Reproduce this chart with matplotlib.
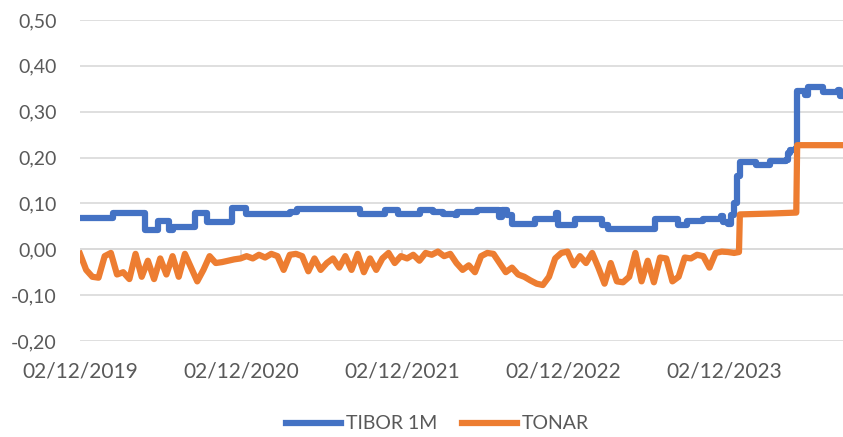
import pandas as pd
import matplotlib.pyplot as plt
import matplotlib.dates as mdates
from matplotlib.ticker import FuncFormatter

# TIBOR 1M: value changes (step line)
tibor_dates = ["2019-12-02", "2020-02-15", "2020-04-28", "2020-05-26", "2020-06-20",
               "2020-07-01", "2020-08-18", "2020-09-14", "2020-11-10", "2020-12-13",
               "2021-03-23", "2021-04-08", "2021-08-29", "2021-10-25", "2021-11-23",
               "2022-01-12", "2022-02-10", "2022-03-05", "2022-04-01", "2022-04-06",
               "2022-05-21", "2022-07-10", "2022-07-17", "2022-07-28", "2022-08-09",
               "2022-09-30", "2022-11-16", "2022-11-21", "2022-12-29", "2023-02-28",
               "2023-03-14", "2023-06-29", "2023-08-20", "2023-09-09", "2023-10-16",
               "2023-11-25", "2023-11-30", "2023-12-11", "2023-12-18", "2023-12-25",
               "2023-12-31", "2024-01-07", "2024-02-13", "2024-03-15", "2024-04-21",
               "2024-04-25", "2024-04-30", "2024-05-13", "2024-05-16", "2024-06-03",
               "2024-06-10", "2024-07-14", "2024-08-17", "2024-08-21", "2024-08-28"]
tibor_values = [0.069, 0.079, 0.042, 0.061, 0.041,
                0.048, 0.080, 0.059, 0.089, 0.078,
                0.082, 0.087, 0.076, 0.085, 0.078,
                0.085, 0.081, 0.077, 0.075, 0.082,
                0.085, 0.070, 0.085, 0.075, 0.056,
                0.065, 0.080, 0.054, 0.065, 0.054,
                0.045, 0.065, 0.054, 0.061, 0.066,
                0.072, 0.060, 0.055, 0.075, 0.100,
                0.160, 0.190, 0.183, 0.192, 0.195,
                0.210, 0.216, 0.220, 0.346, 0.337,
                0.354, 0.343, 0.348, 0.335, 0.335]

# TONAR: fortnightly readings up to the end of 2023
tonar_start = "2019-12-02"
tonar_values = [-0.010, -0.045, -0.060, -0.062, -0.015, -0.008, -0.055, -0.050, -0.065, -0.010,
                -0.060, -0.025, -0.065, -0.020, -0.055, -0.015, -0.060, -0.010, -0.040, -0.070,
                -0.045, -0.015, -0.030, -0.028, -0.025, -0.022, -0.020, -0.015, -0.020, -0.012,
                -0.018, -0.010, -0.015, -0.045, -0.012, -0.010, -0.015, -0.048, -0.020, -0.045,
                -0.030, -0.020, -0.040, -0.015, -0.045, -0.010, -0.050, -0.020, -0.045, -0.020,
                -0.008, -0.030, -0.015, -0.020, -0.012, -0.025, -0.008, -0.012, -0.005, -0.015,
                -0.010, -0.030, -0.045, -0.035, -0.050, -0.015, -0.008, -0.010, -0.030, -0.050,
                -0.040, -0.055, -0.060, -0.068, -0.075, -0.078, -0.060, -0.020, -0.008, -0.005,
                -0.035, -0.015, -0.030, -0.008, -0.040, -0.075, -0.030, -0.070, -0.072, -0.060,
                -0.008, -0.070, -0.025, -0.072, -0.018, -0.020, -0.070, -0.060, -0.018, -0.020,
                -0.012, -0.015, -0.040, -0.008, -0.005, -0.006, -0.008]
# TONAR after the policy moves
tonar_tail_dates = ["2024-01-05", "2024-01-07", "2024-03-20", "2024-05-14", "2024-05-16", "2024-08-28"]
tonar_tail_values = [-0.006, 0.076, 0.078, 0.080, 0.227, 0.227]

y_ticks = [-0.2, -0.1, 0.0, 0.1, 0.2, 0.3, 0.4, 0.5]
x_ticks = ["2019-12-02", "2020-12-02", "2021-12-02", "2022-12-02", "2023-12-02"]

blue = "#4472C4"
orange = "#ED7D31"
grid_col = "#D9D9D9"
text_col = "#595959"

plt.rcParams['font.family'] = ['Lato', 'DejaVu Sans']

tonar_dates = list(pd.date_range(tonar_start, periods=len(tonar_values), freq="14D"))
tonar_dates += list(pd.to_datetime(tonar_tail_dates))
tonar_all = tonar_values + tonar_tail_values

fig = plt.figure(figsize=(8.43, 4.37), dpi=100)
ax = fig.add_axes([0.0949, 0.2197, 0.9051, 0.7346])

ax.plot(pd.to_datetime(tibor_dates), tibor_values, color=blue, lw=4.5,
        drawstyle="steps-post", solid_joinstyle="round", label="TIBOR 1M", zorder=3)
ax.plot(tonar_dates, tonar_all, color=orange, lw=4.5,
        solid_joinstyle="round", label="TONAR", zorder=3)

ax.set_ylim(-0.2, 0.5)
ax.set_xlim(pd.Timestamp("2019-12-02"), pd.Timestamp("2024-08-28"))
ax.set_yticks(y_ticks)
ax.yaxis.set_major_formatter(FuncFormatter(lambda v, p: f"{v:.2f}".replace(".", ",")))
ax.set_xticks(pd.to_datetime(x_ticks))
ax.xaxis.set_major_formatter(mdates.DateFormatter("%d/%m/%Y"))

ax.grid(axis="y", color=grid_col, lw=1.2)
ax.set_axisbelow(True)
for s in ax.spines.values():
    s.set_visible(False)
ax.tick_params(axis="both", length=0, labelsize=14, colors=text_col)
ax.tick_params(axis="y", pad=17)
ax.tick_params(axis="x", pad=15, labelsize=15)

# category axis line at zero with small tick marks
ax.axhline(0, color=grid_col, lw=1.2, zorder=1)
ax.vlines(pd.to_datetime(x_ticks), -0.012, 0, color=grid_col, lw=1.2, zorder=1)

fig.legend(loc="center", bbox_to_anchor=(0.519, 0.03), ncol=2, frameon=False,
           fontsize=14, labelcolor=text_col, handlelength=2.8, handletextpad=0.25,
           columnspacing=1.3)

fig.savefig("out.png", dpi=100)
